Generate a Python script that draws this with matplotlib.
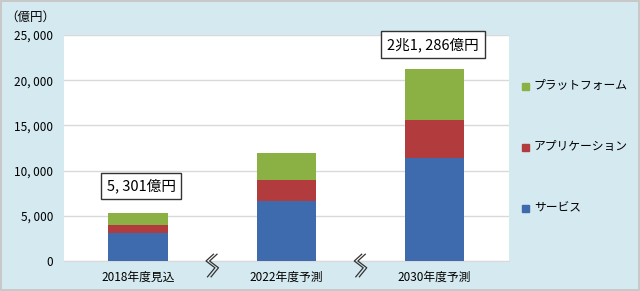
import matplotlib.pyplot as plt
import numpy as np
from matplotlib.transforms import blended_transform_factory

plt.rcParams['font.family'] = ['Noto Sans CJK JP', 'DejaVu Sans']

# data (億円)
years = ['2018年度見込', '2022年度予測', '2030年度予測']
service = [3050, 6600, 11400]
application = [900, 2400, 4250]
platform = [1351, 3000, 5636]
series_names = ['サービス', 'アプリケーション', 'プラットフォーム']
colors = ['#3e6aae', '#b23b3d', '#8bb043']
totals_label = ['5, 301億円', '', '2兆1, 286億円']
yticks = [0, 5000, 10000, 15000, 20000, 25000]

bg = '#d4e9f0'
fig = plt.figure(figsize=(6.4, 2.91), dpi=100)
fig.patch.set_facecolor(bg)
fig.patch.set_edgecolor('#c8c8c8')
fig.patch.set_linewidth(1.5)
ax = fig.add_axes([0.1, 0.1031, 0.695, 0.7766])
ax.set_facecolor('white')

x = np.arange(len(years))
bottom = np.zeros(len(years))
handles = []
for vals, name, c in zip([service, application, platform], series_names, colors):
    b = ax.bar(x, vals, 0.4, bottom=bottom, color=c, label=name, zorder=3)
    handles.append(b)
    bottom += np.array(vals)

ax.set_xlim(-0.5, 2.5)
ax.set_ylim(0, 25000)
ax.set_yticks(yticks)
ax.set_yticklabels([f'{v:,}'.replace(',', ', ') for v in yticks], fontsize=8.5)
ax.set_xticks(x)
ax.set_xticklabels(years, fontsize=8.5)
ax.tick_params(length=0, pad=8)
ax.tick_params(axis='x', pad=7)
ax.grid(axis='y', color='#d9d9d9', lw=1, zorder=0)
for s in ['top', 'right', 'left']:
    ax.spines[s].set_visible(False)
ax.spines['bottom'].set_color('#d9d9d9')

# total boxes
box = dict(boxstyle='square,pad=0.4', fc='white', ec='#333333', lw=1)
ax.text(0.02, 8300, totals_label[0], ha='center', va='center', fontsize=10.5,
        bbox=box, zorder=5)
ax.text(1.99, 23950, totals_label[2], ha='center', va='center', fontsize=10.5,
        bbox=box, zorder=5, clip_on=False)

# axis break marks between categories
tr = blended_transform_factory(ax.transData, ax.transAxes)
for xb in [0.5, 1.5]:
    for dx in [-0.012, 0.012]:
        zx = np.array([0.02, -0.03, 0.03, -0.02]) + xb + dx
        zy = np.array([0.03, -0.0, -0.03, -0.07])
        ax.plot(zx, zy, color='#333333', lw=0.9, transform=tr, clip_on=False, zorder=6)

fig.text(0.008, 0.94, '（億円）', fontsize=9, ha='left', va='center')

# legend (platform on top)
ypos = [0.714, 0.505, 0.295]
for name, c, yy in zip(series_names, colors, ypos):
    fig.patches.append(plt.Rectangle((0.816, 1 - yy - 0.013), 0.011, 0.024,
                                     transform=fig.transFigure, color=c))
    fig.text(0.834, 1 - yy, name, fontsize=8.5, ha='left', va='center')

fig.savefig('out.png', dpi=100, facecolor=fig.get_facecolor(), edgecolor=fig.get_edgecolor())
